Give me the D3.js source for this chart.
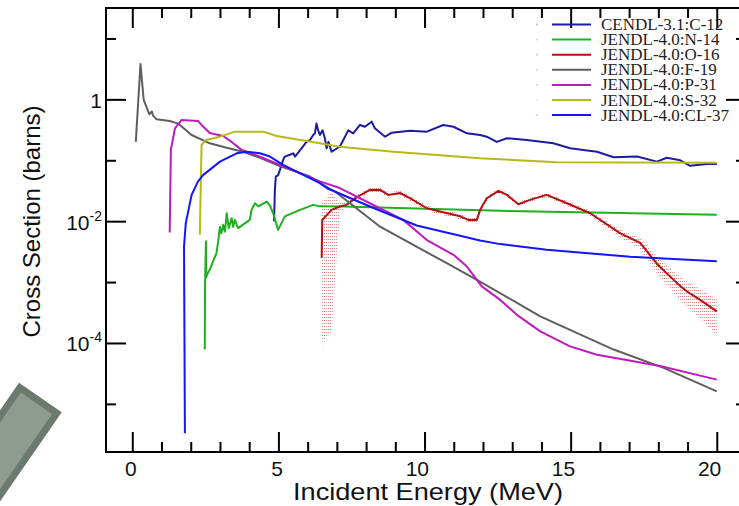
<!DOCTYPE html>
<html>
<head>
<meta charset="utf-8">
<script src="https://cdn.jsdelivr.net/npm/d3@7"></script>
<style>
  body { margin: 0; background: #fff; }
  svg { display: block; }
  .axis path.domain { display: none; }
  .axis line { stroke: #000; stroke-width: 2; }
  .tick-label { font-family: 'Liberation Sans', Arial, sans-serif; font-size: 21px; fill: #111; }
  .axis-title { font-family: 'Liberation Sans', Arial, sans-serif; font-size: 24px; fill: #111; }
  .legend-label { font-family: 'Liberation Serif', 'Times New Roman', serif; font-size: 17px; fill: #222; }
</style>
</head>
<body>
<div id="chart"></div>
<script>
// Incident energy (MeV), cross section (barns)
var c12 = [
  [4.85, 0.01], [4.88, 0.033], [4.91, 0.054], [4.99, 0.057], [5.11, 0.084], [5.16, 0.101],
  [5.22, 0.115], [5.39, 0.123], [5.51, 0.13], [5.57, 0.115], [5.79, 0.157], [5.96, 0.2],
  [6.08, 0.215], [6.19, 0.26], [6.25, 0.277], [6.3, 0.4], [6.36, 0.31], [6.42, 0.26],
  [6.51, 0.31], [6.59, 0.23], [6.65, 0.157], [6.71, 0.2], [6.82, 0.138], [7.1, 0.167],
  [7.39, 0.31], [7.56, 0.277], [7.79, 0.38], [7.96, 0.355], [8.19, 0.43], [8.3, 0.335],
  [8.65, 0.244], [8.88, 0.284], [9.5, 0.305], [10.08, 0.295], [10.64, 0.38], [10.99, 0.355],
  [11.45, 0.277], [11.9, 0.26], [12.13, 0.244], [12.47, 0.2], [12.82, 0.23], [13.5, 0.215],
  [14.41, 0.19], [14.98, 0.157], [15.9, 0.138], [16.47, 0.112], [17.27, 0.115], [17.95, 0.095],
  [18.29, 0.11], [18.75, 0.1], [19.09, 0.081], [19.66, 0.087], [20, 0.087]
]

var n14 = [
  [2.48, 7.8e-5], [2.49, 9.5e-4], [2.52, 0.0047], [2.53, 0.0012], [2.58, 0.0014], [2.65, 0.0016],
  [2.88, 0.003], [2.94, 0.0047], [3.0, 0.0081], [3.05, 0.0063], [3.11, 0.0087], [3.17, 0.0067],
  [3.23, 0.0135], [3.3, 0.0077], [3.4, 0.0112], [3.45, 0.0081], [3.51, 0.0105], [3.62, 0.0077],
  [4.02, 0.0105], [4.08, 0.0153], [4.2, 0.0197], [4.31, 0.0175], [4.6, 0.021], [4.71, 0.018],
  [4.82, 0.0135], [4.99, 0.0072], [5.22, 0.012], [5.74, 0.0153], [6.19, 0.0185], [6.42, 0.0175],
  [7.22, 0.0174], [12.59, 0.0148], [20, 0.0127]
]

var o16 = [
  [6.48, 0.0025], [6.5, 0.0105], [6.82, 0.0153], [7.1, 0.0174], [7.33, 0.0185], [7.68, 0.0247],
  [8.13, 0.0326], [8.48, 0.0326], [8.76, 0.027], [9.16, 0.029], [9.5, 0.0238], [10.08, 0.0163],
  [10.53, 0.0144], [11.22, 0.012], [11.5, 0.0105], [11.79, 0.0105], [11.9, 0.0153], [12.13, 0.0238],
  [12.53, 0.0315], [12.82, 0.027], [13.21, 0.019], [13.61, 0.0224], [14.18, 0.027], [14.87, 0.0197],
  [15.67, 0.0135], [16.7, 0.0063], [17.38, 0.0044], [17.95, 0.002], [18.64, 9.6e-4], [18.98, 7.0e-4],
  [19.43, 5.1e-4], [20, 3.3e-4]
]

// relative uncertainty of each O-16 point
var o16Err = [
  0.99, 0.99, 0.99, 0.15, 0.12, 0.1, 0.1, 0.1, 0.1, 0.1, 0.1, 0.1,
  0.1, 0.1, 0.1, 0.1, 0.1, 0.08, 0.08, 0.08, 0.08, 0.08, 0.08, 0.1,
  0.1, 0.15, 0.2, 0.3, 0.4, 0.45, 0.5, 0.6
]

var f19 = [
  [0.12, 0.2], [0.28, 3.8], [0.39, 0.98], [0.58, 0.57], [0.67, 0.63], [0.71, 0.54],
  [0.83, 0.47], [1.28, 0.44], [1.57, 0.4], [2.03, 0.26], [2.65, 0.19], [3.23, 0.16],
  [3.79, 0.138], [4.37, 0.11], [5.05, 0.08], [6.08, 0.054], [7.0, 0.029], [8.48, 0.0081],
  [10.76, 0.00204], [11.9, 0.00102], [13.96, 2.74e-4], [16.47, 7.8e-5], [18.18, 3.9e-5], [20, 1.6e-5]
]

var p31 = [
  [1.28, 0.0065], [1.32, 0.148], [1.46, 0.335], [1.68, 0.457], [2.25, 0.44], [2.37, 0.38],
  [2.65, 0.28], [3.11, 0.25], [3.4, 0.2], [3.74, 0.148], [3.91, 0.138], [4.37, 0.115],
  [6.42, 0.045], [7.1, 0.035], [8.13, 0.0197], [9.27, 0.0105], [10.08, 0.0049], [10.99, 0.0028],
  [11.45, 0.0018], [11.96, 8.5e-4], [12.59, 5.1e-4], [13.16, 2.9e-4], [13.96, 1.55e-4],
  [14.98, 8.8e-5], [15.9, 6.4e-5], [18.06, 4.2e-5], [20, 2.5e-5]
]

var s32 = [
  [2.31, 0.006], [2.37, 0.178], [2.52, 0.215], [3.0, 0.244], [3.51, 0.295], [4.48, 0.295],
  [4.94, 0.25], [6.42, 0.19], [7.1, 0.167], [8.93, 0.138], [11.9, 0.108], [14.53, 0.093], [20, 0.091]
]

var cl37 = [
  [1.8, 3.3e-6], [1.77, 0.0038], [1.83, 0.0093], [2.03, 0.027], [2.25, 0.045], [2.42, 0.057],
  [3.0, 0.095], [3.57, 0.13], [3.91, 0.138], [4.37, 0.13], [4.71, 0.115], [5.16, 0.084],
  [6.42, 0.042], [6.65, 0.035], [8.13, 0.0174], [9.73, 0.0085], [11.9, 0.0048], [12.59, 0.0042],
  [14.18, 0.0034], [17.04, 0.0026], [20, 0.0022]
]

var seriesNames = [
  'CENDL-3.1:C-12', 'JENDL-4.0:N-14', 'JENDL-4.0:O-16', 'JENDL-4.0:F-19',
  'JENDL-4.0:P-31', 'JENDL-4.0:S-32', 'JENDL-4.0:CL-37'
]

var xMajorTicks = [0, 5, 10, 15, 20]
var xMinorTicks = [1, 2, 3, 4, 6, 7, 8, 9, 11, 12, 13, 14, 16, 17, 18, 19]
var yMajorTicks = [1, 1e-2, 1e-4]
var yMinorTicks = [10, 1e-1, 1e-3, 1e-5]

var margin = { top: 8, left: 106, right: -7, bottom: 54 }

var width = 739 - margin.left - margin.right
var height = 506 - margin.top - margin.bottom

var colors = ['#1c1ca2', '#1fb01f', '#b01212', '#5e5e5e', '#bd1bbd', '#b8b81a', '#1414ff']

var series = seriesNames.map((name, i) => ({
  name: name,
  values: [c12, n14, o16, f19, p31, s32, cl37][i],
  color: colors[i]
}))

var svg = d3
  .select('#chart')
  .append('svg')
  .attr('width', 739)
  .attr('height', 506)

// grey block sticking in from the lower left corner
svg
  .append('g')
  .attr('transform', 'translate(19,382.7) rotate(34.7)')
  .append('rect')
  .attr('x', 3.5)
  .attr('y', 3.5)
  .attr('width', 45)
  .attr('height', 220)
  .attr('fill', '#8d9c8f')
  .attr('stroke', '#6c7a6d')
  .attr('stroke-width', 7)

var defs = svg.append('defs')
var dots = defs
  .append('pattern')
  .attr('id', 'err-dots')
  .attr('patternUnits', 'userSpaceOnUse')
  .attr('width', 2)
  .attr('height', 3)
dots
  .append('rect')
  .attr('width', 1)
  .attr('height', 1)
  .attr('fill', '#e25a5a')

var plot = svg
  .append('g')
  .attr('transform', `translate(${margin.left},${margin.top})`)

let xPositionScale = d3
  .scaleLinear()
  .domain([-0.9, 21])
  .range([0, width])

let yPositionScale = d3
  .scaleLog()
  .domain([Math.pow(10, -5.79), Math.pow(10, 1.5)])
  .range([height, 0])

/* O-16 uncertainty band */
var band = d3
  .area()
  .x(d => xPositionScale(d[0]))
  .y0((d, i) => yPositionScale(d[1] * (1 - o16Err[i])))
  .y1((d, i) => yPositionScale(d[1] * (1 + o16Err[i])))

plot
  .append('path')
  .datum(o16)
  .attr('d', band)
  .attr('fill', 'url(#err-dots)')
  .attr('opacity', 0.75)

/* Curves */
var line = d3
  .line()
  .x(d => xPositionScale(d[0]))
  .y(d => yPositionScale(d[1]))

plot
  .selectAll('.curve')
  .data(series)
  .enter()
  .append('path')
  .attr('class', 'curve')
  .attr('d', d => line(d.values))
  .attr('fill', 'none')
  .attr('stroke', d => d.color)
  .attr('stroke-width', 2)
  .attr('stroke-linejoin', 'round')

/* Axes: ticks point inwards on all four sides */
function addAxis(axis, tx, ty) {
  plot
    .append('g')
    .attr('class', 'axis')
    .attr('transform', `translate(${tx},${ty})`)
    .call(axis.tickFormat('').tickSizeOuter(0))
}

addAxis(d3.axisBottom(xPositionScale).tickValues(xMajorTicks).tickSizeInner(-20), 0, height)
addAxis(d3.axisBottom(xPositionScale).tickValues(xMinorTicks).tickSizeInner(-10), 0, height)
addAxis(d3.axisTop(xPositionScale).tickValues(xMajorTicks).tickSizeInner(-20), 0, 0)
addAxis(d3.axisTop(xPositionScale).tickValues(xMinorTicks).tickSizeInner(-10), 0, 0)
addAxis(d3.axisLeft(yPositionScale).tickValues(yMajorTicks).tickSizeInner(-20), 0, 0)
addAxis(d3.axisLeft(yPositionScale).tickValues(yMinorTicks).tickSizeInner(-10), 0, 0)
addAxis(d3.axisRight(yPositionScale).tickValues(yMajorTicks).tickSizeInner(-20), width, 0)
addAxis(d3.axisRight(yPositionScale).tickValues(yMinorTicks).tickSizeInner(-10), width, 0)

plot
  .append('rect')
  .attr('width', width)
  .attr('height', height)
  .attr('fill', 'none')
  .attr('stroke', '#000')
  .attr('stroke-width', 2)

plot
  .selectAll('.x-label')
  .data(xMajorTicks)
  .enter()
  .append('text')
  .attr('class', 'tick-label x-label')
  .attr('x', d => xPositionScale(d) + 4.5)
  .attr('y', height + 24)
  .attr('text-anchor', 'end')
  .text(d => d)

var yLabels = plot
  .selectAll('.y-label')
  .data(yMajorTicks)
  .enter()
  .append('text')
  .attr('class', 'tick-label y-label')
  .attr('x', -4)
  .attr('y', d => yPositionScale(d) + 8.5)
  .attr('text-anchor', 'end')

yLabels.filter(d => d === 1).text('1')
yLabels
  .filter(d => d !== 1)
  .text('10')
  .append('tspan')
  .attr('font-size', 14)
  .attr('dy', -9)
  .text(d => Math.round(Math.log10(d)))

plot
  .append('text')
  .attr('class', 'axis-title')
  .attr('x', 322)
  .attr('y', 492)
  .attr('text-anchor', 'middle')
  .attr('textLength', 270)
  .attr('lengthAdjust', 'spacingAndGlyphs')
  .text('Incident Energy (MeV)')

svg
  .append('text')
  .attr('class', 'axis-title')
  .attr('transform', 'translate(40,221.5) rotate(-90)')
  .attr('text-anchor', 'middle')
  .text('Cross Section (barns)')

/* Legend (no box) */
var legend = svg
  .selectAll('.legend')
  .data(series)
  .enter()
  .append('g')
  .attr('class', 'legend')
  .attr('transform', (d, i) => `translate(0,${30 + i * 15.1})`)

legend
  .append('circle')
  .attr('cx', 537)
  .attr('cy', -5.5)
  .attr('r', 0.9)
  .attr('fill', d => d.color)
  .attr('opacity', 0.35)

legend
  .append('line')
  .attr('x1', 552)
  .attr('x2', 591)
  .attr('y1', -5.5)
  .attr('y2', -5.5)
  .attr('stroke', d => d.color)
  .attr('stroke-width', 2)

legend
  .append('text')
  .attr('class', 'legend-label')
  .attr('x', 601)
  .attr('y', 0)
  .text(d => d.name)

// top axis ticks sit over the legend text
plot.selectAll('.axis').raise()
</script>
</body>
</html>
